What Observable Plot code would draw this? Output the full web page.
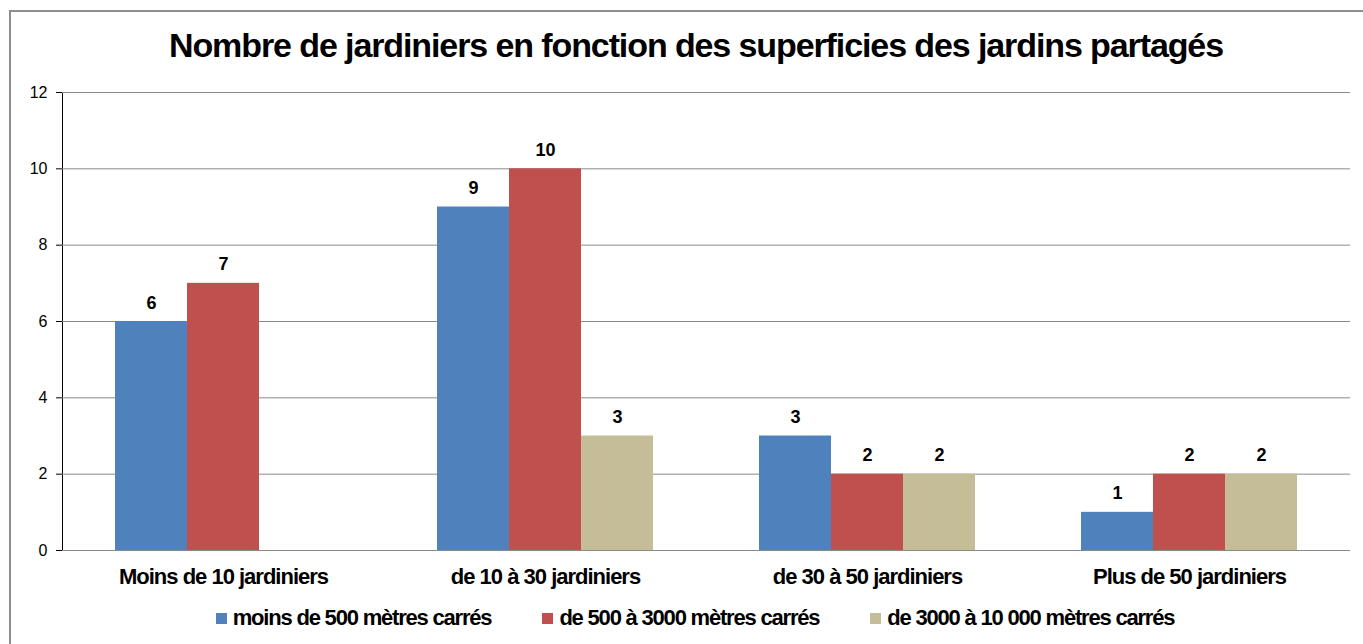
<!DOCTYPE html>
<html><head><meta charset="utf-8">
<script src="https://cdn.jsdelivr.net/npm/d3@7"></script>
<script src="https://cdn.jsdelivr.net/npm/@observablehq/plot@0.6"></script>
<style>
body{margin:0;background:#fff;font-family:"Liberation Sans",Arial,sans-serif;}
#frame{position:absolute;left:9px;top:10px;width:1400px;height:700px;border:2px solid #8e8e8e;box-sizing:border-box}
#title{position:absolute;top:26px;left:0;width:1392px;text-align:center;font-weight:bold;font-size:34px;letter-spacing:-1.1px;color:#000;white-space:nowrap}
#chart{position:absolute;left:0;top:0}
#legend{position:absolute;top:605px;left:0;width:1390px;display:flex;justify-content:center;gap:51px;font-weight:bold;font-size:22px;letter-spacing:-1.2px;color:#000}
#legend .item{display:flex;align-items:center;gap:6px;white-space:nowrap}
#legend .sw{width:11px;height:11px;display:inline-block}
#chart g[aria-label="fx-axis tick label"] text{font-weight:bold;font-size:22px;letter-spacing:-1px}
#chart g[aria-label="text"] text{font-weight:bold}
</style>
</head><body>
<div id="frame"></div>
<div id="chart"></div>
<div id="title">Nombre de jardiniers en fonction des superficies des jardins partagés</div>
<div id="legend"></div>
<script>
const categories = ["Moins de 10 jardiniers", "de 10 à 30 jardiniers", "de 30 à 50 jardiniers", "Plus de 50 jardiniers"];
const seriesNames = ["moins de 500 mètres carrés", "de 500 à 3000 mètres carrés", "de 3000 à 10 000 mètres carrés"];
const moins500 = [6, 9, 3, 1];
const de500a3000 = [7, 10, 2, 2];
const de3000a10000 = [null, 3, 2, 2];
const colors = ["#4F81BD", "#C0504D", "#C4BD97"];
const yTicks = [0, 2, 4, 6, 8, 10, 12];

const seriesValues = [moins500, de500a3000, de3000a10000];
const rows = [];
categories.forEach((c, i) => {
  seriesNames.forEach((s, j) => {
    const v = seriesValues[j][i];
    if (v != null) rows.push({cat: c, series: s, value: v});
  });
});

const chart = Plot.plot({
  width: 1363,
  height: 590,
  marginTop: 92,
  marginBottom: 40,
  marginLeft: 61,
  marginRight: 13,
  style: {fontFamily: "Liberation Sans, Arial, sans-serif", fontSize: "16px", color: "#000", background: "transparent"},
  fx: {domain: categories, padding: 0, axis: "bottom", label: null, tickSize: 0, tickPadding: 18},
  x: {domain: seriesNames, paddingInner: 0, paddingOuter: 0.736, axis: null},
  y: {domain: [0, 12], ticks: yTicks, tickSize: 6, tickPadding: 9, label: null, line: true},
  color: {domain: seriesNames, range: colors},
  marks: [
    Plot.ruleY(yTicks, {stroke: "#8a8a8a", strokeWidth: 1}),
    Plot.barY(rows, {fx: "cat", x: "series", y: "value", fill: "series"}),
    Plot.text(rows, {fx: "cat", x: "series", y: "value", text: "value", dy: -13, lineAnchor: "bottom", fontSize: 18})
  ]
});
document.getElementById("chart").appendChild(chart);

const legend = document.getElementById("legend");
seriesNames.forEach((s, j) => {
  const it = document.createElement("div");
  it.className = "item";
  const sw = document.createElement("span");
  sw.className = "sw";
  sw.style.background = colors[j];
  const t = document.createElement("span");
  t.textContent = s;
  it.appendChild(sw); it.appendChild(t);
  legend.appendChild(it);
});
</script>
</body></html>
